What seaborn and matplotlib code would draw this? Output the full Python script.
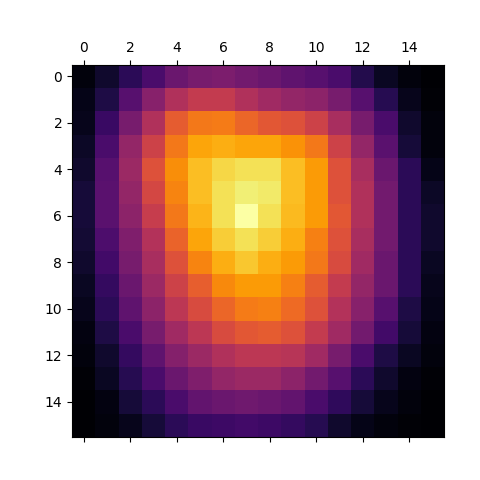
import numpy as np
import matplotlib
matplotlib.use("Agg")
import matplotlib.pyplot as plt
import seaborn as sns

# cell values (row by row, 16x16)
intensity = np.array([
    [0.02, 0.08, 0.15, 0.22, 0.30, 0.33, 0.34, 0.32, 0.30, 0.27, 0.25, 0.22, 0.13, 0.06, 0.02, 0.00],
    [0.04, 0.12, 0.25, 0.37, 0.47, 0.52, 0.52, 0.47, 0.43, 0.40, 0.38, 0.33, 0.25, 0.14, 0.05, 0.01],
    [0.05, 0.18, 0.33, 0.47, 0.63, 0.70, 0.71, 0.66, 0.62, 0.60, 0.55, 0.45, 0.33, 0.22, 0.08, 0.02],
    [0.07, 0.22, 0.40, 0.55, 0.70, 0.80, 0.82, 0.80, 0.80, 0.76, 0.70, 0.55, 0.40, 0.26, 0.10, 0.02],
    [0.08, 0.25, 0.42, 0.60, 0.75, 0.85, 0.90, 0.92, 0.92, 0.85, 0.78, 0.60, 0.45, 0.30, 0.15, 0.04],
    [0.10, 0.26, 0.40, 0.57, 0.73, 0.85, 0.92, 0.95, 0.94, 0.85, 0.78, 0.60, 0.47, 0.32, 0.15, 0.07],
    [0.10, 0.26, 0.38, 0.53, 0.70, 0.83, 0.92, 1.00, 0.92, 0.84, 0.78, 0.62, 0.47, 0.32, 0.15, 0.08],
    [0.09, 0.23, 0.35, 0.48, 0.65, 0.80, 0.88, 0.92, 0.88, 0.82, 0.72, 0.60, 0.45, 0.32, 0.15, 0.08],
    [0.08, 0.20, 0.33, 0.45, 0.60, 0.73, 0.82, 0.87, 0.82, 0.78, 0.70, 0.58, 0.43, 0.30, 0.15, 0.06],
    [0.06, 0.17, 0.30, 0.42, 0.55, 0.64, 0.74, 0.78, 0.78, 0.72, 0.63, 0.52, 0.40, 0.30, 0.15, 0.05],
    [0.05, 0.15, 0.27, 0.38, 0.50, 0.58, 0.66, 0.71, 0.72, 0.67, 0.60, 0.48, 0.37, 0.25, 0.12, 0.04],
    [0.03, 0.12, 0.22, 0.33, 0.43, 0.50, 0.58, 0.62, 0.63, 0.60, 0.52, 0.43, 0.32, 0.20, 0.10, 0.03],
    [0.02, 0.08, 0.17, 0.27, 0.36, 0.42, 0.47, 0.50, 0.50, 0.49, 0.43, 0.33, 0.22, 0.12, 0.06, 0.02],
    [0.01, 0.06, 0.14, 0.22, 0.30, 0.35, 0.40, 0.42, 0.42, 0.38, 0.32, 0.25, 0.15, 0.08, 0.03, 0.01],
    [0.00, 0.03, 0.10, 0.15, 0.22, 0.28, 0.30, 0.31, 0.30, 0.28, 0.22, 0.16, 0.10, 0.05, 0.02, 0.00],
    [0.00, 0.02, 0.05, 0.10, 0.15, 0.18, 0.19, 0.20, 0.19, 0.17, 0.14, 0.08, 0.04, 0.02, 0.01, 0.00],
])
tick_labels = [0, 2, 4, 6, 8, 10, 12, 14]

fig = plt.figure(figsize=(4.8, 4.8), dpi=100)
ax = fig.add_axes([0.15, 0.09, 0.775, 0.775])

sns.heatmap(intensity, cmap="inferno", cbar=False, square=True,
            xticklabels=False, yticklabels=False, ax=ax)

# matshow-like axes: ticks at cell centres, labels on top
pos = [t + 0.5 for t in tick_labels]
ax.set_xticks(pos)
ax.set_xticklabels([str(t) for t in tick_labels], rotation=0)
ax.set_yticks(pos)
ax.set_yticklabels([str(t) for t in tick_labels], rotation=0)
ax.xaxis.tick_top()
ax.xaxis.set_ticks_position("both")
ax.tick_params(axis="both", labelsize=10, length=3.5, width=0.8)
for s in ax.spines.values():
    s.set_visible(True)
    s.set_linewidth(0.8)

fig.savefig("out.png", dpi=100)
plt.close(fig)
